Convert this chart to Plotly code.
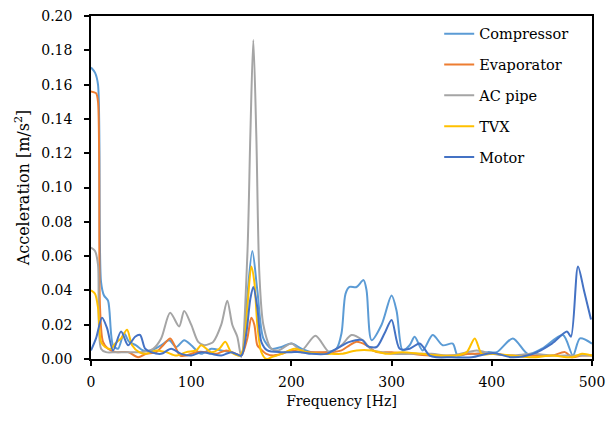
import plotly.graph_objects as go

series_names = ["Compressor", "Evaporator", "AC pipe", "TVX", "Motor"]

comp_f = [0, 4, 7, 10, 13, 17, 22, 27, 33, 38, 45, 52, 60, 70, 78, 85, 93, 100, 110, 120, 130, 140, 150, 155, 161, 166, 172, 180, 190, 200, 210, 220, 235, 245, 250, 254, 258, 265, 272, 275, 280, 290, 300, 305, 311, 318, 323, 331, 341, 351, 361, 366, 375, 385, 396, 405, 421, 436, 450, 471, 481, 488, 500]
comp_v = [0.170, 0.167, 0.160, 0.045, 0.037, 0.034, 0.008, 0.006, 0.015, 0.010, 0.008, 0.005, 0.005, 0.008, 0.011, 0.007, 0.011, 0.008, 0.003, 0.006, 0.005, 0.004, 0.002, 0.030, 0.063, 0.040, 0.012, 0.006, 0.007, 0.009, 0.006, 0.004, 0.004, 0.006, 0.015, 0.038, 0.042, 0.042, 0.046, 0.040, 0.011, 0.020, 0.037, 0.028, 0.005, 0.008, 0.013, 0.005, 0.014, 0.008, 0.009, 0.002, 0.003, 0.003, 0.004, 0.004, 0.012, 0.003, 0.006, 0.014, 0.002, 0.012, 0.009]

evap_f = [0, 5, 7, 9, 12, 17, 25, 37, 47, 55, 65, 72, 79, 85, 89, 95, 105, 115, 125, 135, 145, 150, 156, 160, 163, 166, 169, 175, 182, 190, 200, 210, 225, 240, 250, 258, 265, 275, 285, 300, 320, 340, 360, 380, 400, 420, 440, 460, 473, 480, 490, 500]
evap_v = [0.156, 0.155, 0.150, 0.030, 0.010, 0.006, 0.004, 0.004, 0.001, 0.003, 0.004, 0.008, 0.012, 0.006, 0.002, 0.002, 0.004, 0.004, 0.003, 0.005, 0.003, 0.002, 0.012, 0.024, 0.020, 0.008, 0.006, 0.003, 0.002, 0.003, 0.005, 0.004, 0.004, 0.004, 0.005, 0.008, 0.010, 0.008, 0.004, 0.004, 0.003, 0.002, 0.002, 0.003, 0.003, 0.002, 0.002, 0.002, 0.004, 0.001, 0.002, 0.002]

pipe_f = [0, 4, 7, 10, 15, 25, 40, 50, 62, 70, 79, 88, 93, 100, 107, 113, 119, 122, 130, 136, 141, 146, 150, 156, 159, 162, 165, 168, 172, 180, 187, 200, 210, 224, 238, 250, 260, 271, 281, 290, 300, 320, 340, 360, 385, 400, 420, 440, 460, 480, 500]
pipe_v = [0.065, 0.063, 0.055, 0.006, 0.004, 0.004, 0.004, 0.004, 0.006, 0.012, 0.027, 0.019, 0.028, 0.020, 0.010, 0.008, 0.009, 0.010, 0.020, 0.034, 0.020, 0.013, 0.001, 0.060, 0.130, 0.186, 0.130, 0.050, 0.020, 0.006, 0.005, 0.009, 0.005, 0.0136, 0.004, 0.008, 0.014, 0.011, 0.005, 0.004, 0.003, 0.003, 0.003, 0.002, 0.005, 0.003, 0.002, 0.003, 0.002, 0.002, 0.002]

tvx_f = [0, 4, 7, 10, 14, 20, 24, 30, 36, 41, 48, 55, 65, 75, 85, 95, 105, 110, 120, 128, 134, 140, 148, 152, 156, 160, 163, 166, 170, 175, 180, 190, 203, 215, 228, 240, 250, 265, 280, 295, 310, 330, 350, 365, 375, 383, 390, 400, 420, 440, 460, 480, 490, 500]
tvx_v = [0.040, 0.038, 0.030, 0.010, 0.007, 0.006, 0.009, 0.012, 0.017, 0.008, 0.004, 0.003, 0.005, 0.004, 0.002, 0.004, 0.005, 0.008, 0.004, 0.006, 0.010, 0.004, 0.002, 0.006, 0.030, 0.054, 0.045, 0.020, 0.004, 0.000, 0.001, 0.003, 0.006, 0.004, 0.003, 0.003, 0.003, 0.005, 0.005, 0.003, 0.004, 0.003, 0.002, 0.002, 0.004, 0.012, 0.003, 0.003, 0.002, 0.001, 0.002, 0.001, 0.003, 0.002]

motor_f = [0, 5, 11, 16, 22, 30, 37, 44, 49, 54, 60, 70, 80, 90, 100, 110, 120, 130, 140, 150, 155, 159, 162, 166, 170, 176, 190, 200, 209, 220, 235, 245, 258, 271, 276, 285, 293, 300, 308, 318, 328, 338, 345, 360, 380, 401, 420, 441, 460, 475, 479, 486, 492, 499]
motor_v = [0.005, 0.012, 0.024, 0.018, 0.005, 0.016, 0.008, 0.013, 0.014, 0.006, 0.004, 0.003, 0.006, 0.003, 0.002, 0.004, 0.003, 0.002, 0.004, 0.002, 0.015, 0.035, 0.042, 0.030, 0.010, 0.005, 0.004, 0.004, 0.004, 0.003, 0.003, 0.006, 0.010, 0.011, 0.0075, 0.007, 0.015, 0.0228, 0.006, 0.006, 0.009, 0.002, 0.001, 0.001, 0.001, 0.0035, 0.001, 0.003, 0.009, 0.016, 0.013, 0.054, 0.040, 0.023]

colors = ["#5B9BD5", "#ED7D31", "#A5A5A5", "#FFC000", "#4472C4"]
xs = [comp_f, evap_f, pipe_f, tvx_f, motor_f]
ys = [comp_v, evap_v, pipe_v, tvx_v, motor_v]

FONT = "DejaVu Serif"

fig = go.Figure()
for name, x, y, c in zip(series_names, xs, ys, colors):
    fig.add_trace(go.Scatter(
        x=x, y=y, name=name, mode="lines",
        line=dict(color=c, width=2, shape="spline", smoothing=0.8),
        legendgroup=name,
    ))

fig.update_layout(
    width=607, height=413,
    margin=dict(l=83, r=23, t=8, b=62),
    paper_bgcolor="white", plot_bgcolor="white",
    font=dict(family=FONT, size=14, color="black"),
    showlegend=True,
    legend=dict(
        x=0.695, xanchor="left", y=0.995, yanchor="top",
        font=dict(family=FONT, size=14.5, color="black"),
        bgcolor="rgba(0,0,0,0)", borderwidth=0,
        traceorder="grouped", tracegroupgap=9, itemwidth=30,
    ),
    xaxis=dict(
        range=[0, 500], dtick=100, tick0=0, automargin=False,
        showgrid=False, zeroline=False,
        showline=True, linecolor="black", linewidth=1.5, mirror=True,
        ticks="outside", ticklen=5, tickcolor="black", tickwidth=1.5,
        ticklabelstandoff=4, ticklabeloverflow="allow",
        tickfont=dict(family=FONT, size=14),
        title=dict(text="Frequency [Hz]", font=dict(family=FONT, size=14), standoff=8),
    ),
    yaxis=dict(
        range=[0, 0.2], dtick=0.02, tick0=0, tickformat=".2f", automargin=False,
        showgrid=False, zeroline=False,
        showline=True, linecolor="black", linewidth=1.5, mirror=True,
        ticks="outside", ticklen=5, tickcolor="black", tickwidth=1.5,
        ticklabelstandoff=9, ticklabeloverflow="allow",
        tickfont=dict(family=FONT, size=14),
        title=dict(text="Acceleration [m/s<sup>2</sup>]", font=dict(family=FONT, size=16), standoff=8),
    ),
)

fig.write_html("out.html")
